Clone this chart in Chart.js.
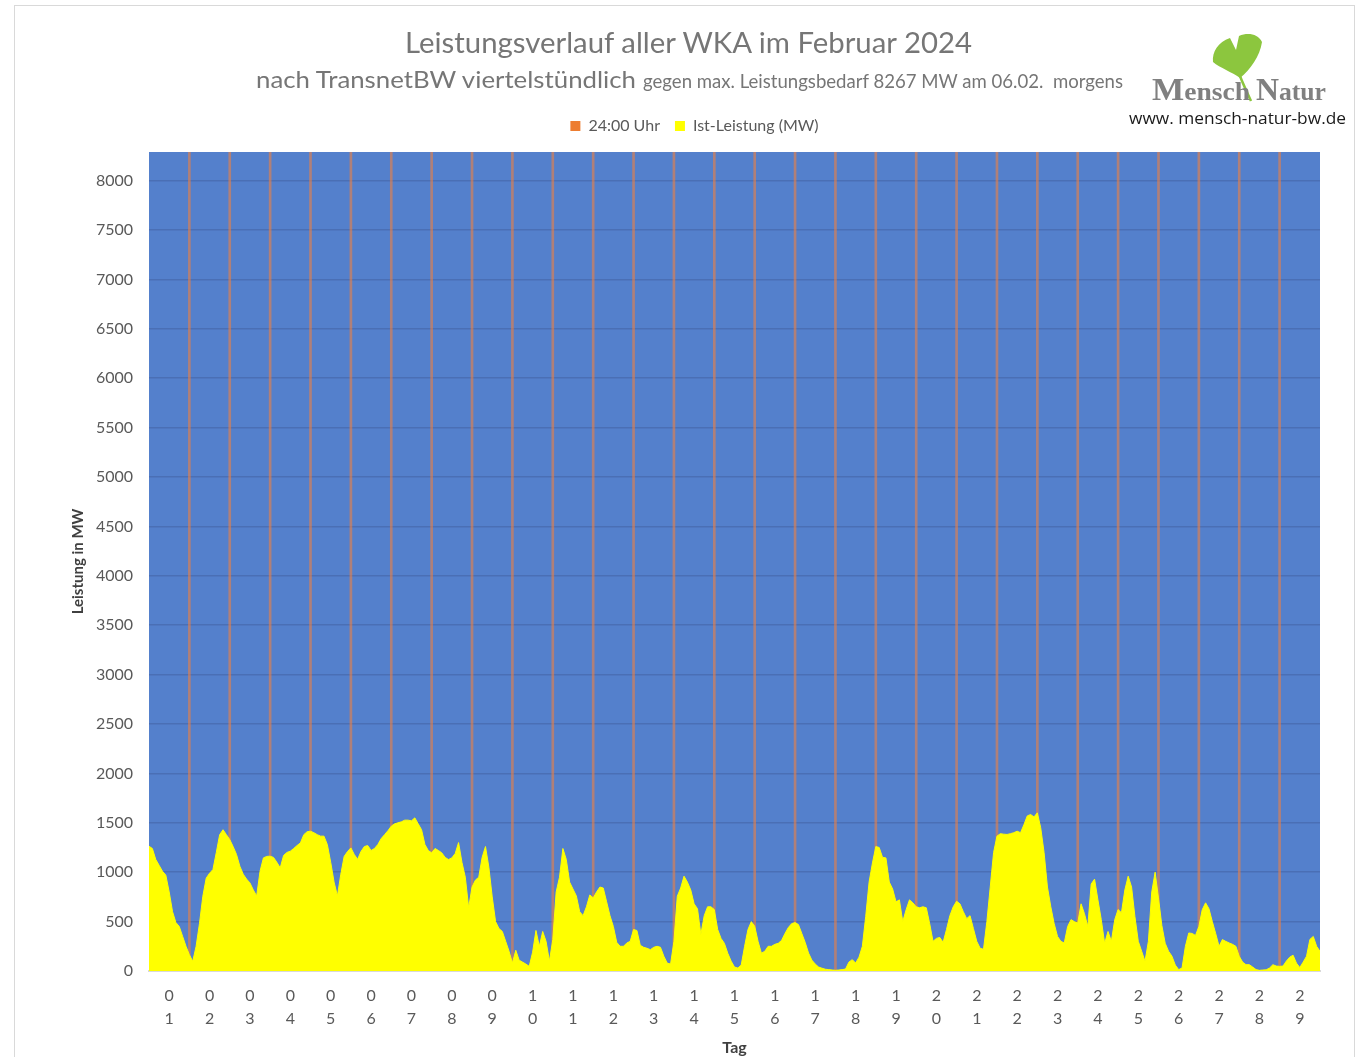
<!DOCTYPE html>
<html>
<head>
<meta charset="utf-8">
<script src="https://cdn.jsdelivr.net/npm/chart.js@4.4.1/dist/chart.umd.min.js"></script>
<style>
  html, body { margin: 0; padding: 0; background: #ffffff; }
  #wrap { position: relative; width: 1362px; height: 1057px; overflow: hidden; }
  #frame { position: absolute; left: 14px; top: 5px; width: 1341px; height: 1060px; border: 1px solid #d9d9d9; box-sizing: border-box; }
  #c { position: absolute; left: 0; top: 0; }
  #over { position: absolute; left: 0; top: 0; pointer-events: none; }
  #over text { white-space: pre; }
</style>
</head>
<body>
<div id="wrap">
  <div id="frame"></div>
  <canvas id="c" width="1362" height="1057"></canvas>
  <svg id="over" width="1362" height="1057" xmlns="http://www.w3.org/2000/svg">
    <text x="405" y="53" font-family="Lato, 'Open Sans', sans-serif" font-size="29" fill="#767676" textLength="567" lengthAdjust="spacingAndGlyphs">Leistungsverlauf aller WKA im Februar 2024</text>
    <text x="256" y="88" font-family="Lato, 'Open Sans', sans-serif" font-size="24" fill="#767676" textLength="380" lengthAdjust="spacingAndGlyphs">nach TransnetBW viertelstündlich</text>
    <text x="643" y="88" xml:space="preserve" font-family="Lato, 'Open Sans', sans-serif" font-size="18.5" fill="#767676" textLength="480" lengthAdjust="spacingAndGlyphs">gegen max. Leistungsbedarf 8267 MW am 06.02.  morgens</text>
    <!-- ginkgo leaf -->
    <path d="M1240,76 C1243,84 1247,92 1251,101" stroke="#8cc63e" stroke-width="2.5" fill="none"/>
    <path d="M1240,78 C1232,72 1220,68 1213,62 C1212,52 1218,42 1230,38 L1236,50 L1239,36 C1248,32 1258,34 1262,42 C1260,56 1250,70 1240,78 Z" fill="#8cc63e"/>
    <text x="1152" y="100" font-family="'Liberation Serif', 'DejaVu Serif', serif" font-weight="bold" fill="#808080" textLength="98" lengthAdjust="spacingAndGlyphs"><tspan font-size="31">M</tspan><tspan font-size="25">ensch</tspan></text>
    <text x="1256" y="100" font-family="'Liberation Serif', 'DejaVu Serif', serif" font-weight="bold" fill="#808080" textLength="70" lengthAdjust="spacingAndGlyphs"><tspan font-size="31">N</tspan><tspan font-size="25">atur</tspan></text>
    <text x="1129" y="124" font-family="'Open Sans', Lato, sans-serif" font-size="17" fill="#1a1a1a" textLength="217" lengthAdjust="spacingAndGlyphs">www. mensch-natur-bw.de</text>
  </svg>
</div>
<script>
// ---- DATA ----
const days = ['01','02','03','04','05','06','07','08','09','10','11','12','13','14','15','16','17','18','19','20','21','22','23','24','25','26','27','28','29'];
const samplesPerDay = 12; // every 2 hours
const yMax = 8290;
const yTicks = [0,500,1000,1500,2000,2500,3000,3500,4000,4500,5000,5500,6000,6500,7000,7500,8000];
// Ist-Leistung (MW), 2-hourly readings, day by day
const d01 = [1263,1240,1130,1070,1010,970,800,600,490,450,350,250];
const d02 = [165,98,250,480,757,940,990,1027,1200,1380,1430,1380];
const d03 = [1330,1260,1180,1061,980,930,892,820,760,1010,1145,1160];
const d04 = [1162,1150,1100,1044,1170,1200,1213,1240,1270,1297,1380,1410];
const d05 = [1415,1400,1380,1365,1365,1280,1100,900,760,980,1160,1210];
const d06 = [1246,1180,1130,1210,1260,1270,1220,1240,1280,1340,1380,1420];
const d07 = [1466,1490,1500,1510,1527,1527,1520,1550,1490,1430,1280,1220];
const d08 = [1196,1240,1220,1196,1150,1128,1145,1190,1300,1100,950,640];
const d09 = [850,920,950,1150,1260,1050,750,500,430,400,300,200];
const d10 = [81,210,110,90,70,47,190,410,250,400,300,100];
const d11 = [318,800,950,1240,1130,900,830,760,600,560,650,770];
const d12 = [740,800,850,840,700,560,450,290,250,250,284,300];
const d13 = [420,410,260,240,230,216,240,250,240,150,80,70];
const d14 = [300,757,840,960,900,820,680,630,370,560,650,650];
const d15 = [622,420,330,280,180,100,40,30,60,250,420,500];
const d16 = [453,300,180,200,250,250,270,280,310,380,440,480];
const d17 = [490,470,380,290,182,110,70,40,28,18,14,10];
const d18 = [7,10,14,20,90,115,81,140,250,554,900,1094];
const d19 = [1260,1250,1150,1145,900,830,700,720,500,620,720,690];
const d20 = [650,640,650,640,480,300,330,340,290,420,560,650];
const d21 = [706,680,600,530,560,430,300,230,220,500,850,1200];
const d22 = [1365,1390,1385,1382,1390,1400,1415,1400,1480,1570,1584,1560];
const d23 = [1601,1450,1200,850,650,480,350,300,284,450,520,500];
const d24 = [486,680,580,450,880,930,720,520,280,400,300,520];
const d25 = [622,590,820,960,850,550,300,200,98,300,800,1000];
const d26 = [740,460,280,200,150,60,14,30,250,385,380,360];
const d27 = [450,620,690,630,500,380,250,318,300,284,270,250];
const d28 = [149,90,64,64,40,14,7,10,12,30,64,50];
const d29 = [47,50,100,140,160,80,35,90,150,320,350,250];
const endValue = [199];
const istLeistung = [].concat(d01,d02,d03,d04,d05,d06,d07,d08,d09,d10,d11,d12,d13,d14,d15,d16,d17,d18,d19,d20,d21,d22,d23,d24,d25,d26,d27,d28,d29,endValue);
// 24:00 Uhr markers at each midnight between days
const midnights = [1,2,3,4,5,6,7,8,9,10,11,12,13,14,15,16,17,18,19,20,21,22,23,24,25,26,27,28];

const bgPlugin = {
  id: 'plotBg',
  afterInit(chart) {
    const lg = chart.legend;
    if (lg && !lg._padded) {
      const origFit = lg.fit;
      lg.fit = function () { origFit.call(this); this.height += 8; };
      lg._padded = true;
    }
  },
  beforeDraw(chart) {
    const {ctx, chartArea: a} = chart;
    ctx.save();
    ctx.fillStyle = '#5480cc';
    ctx.fillRect(a.left, a.top, a.right - a.left, a.bottom - a.top);
    ctx.restore();
  }
};

new Chart(document.getElementById('c'), {
  type: 'line',
  data: {
    datasets: [
      {
        type: 'bar',
        label: '24:00 Uhr',
        data: midnights.map(d => ({x: d, y: yMax})),
        backgroundColor: 'rgba(232,128,70,0.62)',
        borderWidth: 0,
        barThickness: 2,
        order: 1
      },
      {
        type: 'line',
        label: 'Ist-Leistung (MW)',
        data: istLeistung.map((v, i) => ({x: i / samplesPerDay, y: v})),
        borderColor: '#ffff00',
        backgroundColor: '#ffff00',
        borderWidth: 1,
        pointRadius: 0,
        tension: 0,
        fill: 'origin',
        order: 0
      }
    ]
  },
  options: {
    responsive: false,
    animation: false,
    layout: { padding: { left: 69, right: 42, top: 103, bottom: 0 } },
    plugins: {
      legend: {
        position: 'top',
        labels: {
          font: { family: "Lato, 'Open Sans', sans-serif", size: 16 },
          color: '#595959',
          boxWidth: 10,
          boxHeight: 10,
          padding: 15,
          sort: (a, b) => a.datasetIndex - b.datasetIndex,
          generateLabels: (chart) => {
            const items = Chart.defaults.plugins.legend.labels.generateLabels(chart);
            items.forEach(it => {
              it.fillStyle = it.datasetIndex === 0 ? '#ed7d31' : '#ffff00';
              it.strokeStyle = it.fillStyle;
              it.lineWidth = 0;
            });
            return items;
          }
        }
      },
      tooltip: { enabled: false },
      title: { display: false }
    },
    scales: {
      x: {
        type: 'linear',
        min: 0,
        max: days.length,
        offset: false,
        grid: { display: false, drawTicks: false },
        border: { display: true, color: '#d9d9d9', width: 2 },
        afterBuildTicks: (s) => { s.ticks = days.map((d, i) => ({value: i + 0.5})); },
        afterFit: (s) => { s.height = 86; },
        ticks: {
          autoSkip: false,
          maxRotation: 0,
          padding: 13,
          font: { family: "Lato, 'Open Sans', sans-serif", size: 16, lineHeight: 1.45 },
          color: '#595959',
          callback: (v, i) => days[i].split('')
        },
        title: {
          display: true,
          text: 'Tag',
          font: { family: "Lato, 'Open Sans', sans-serif", size: 16, weight: 'bold' },
          color: '#404040',
          padding: { top: 0, bottom: 0 }
        }
      },
      y: {
        min: 0,
        max: yMax,
        grid: { color: '#4a6fb5', lineWidth: 1.5, drawTicks: false },
        border: { display: false },
        afterFit: (s) => { s.width = 80; },
        afterBuildTicks: (s) => { s.ticks = yTicks.map(v => ({value: v})); },
        ticks: {
          padding: 16,
          font: { family: "Lato, 'Open Sans', sans-serif", size: 16 },
          color: '#595959',
          callback: (v) => String(v)
        },
        title: {
          display: true,
          text: 'Leistung in MW',
          font: { family: "Lato, 'Open Sans', sans-serif", size: 15, weight: 'bold' },
          color: '#404040',
          padding: { top: 0, bottom: 0 }
        }
      }
    }
  },
  plugins: [bgPlugin]
});
</script>
</body>
</html>
